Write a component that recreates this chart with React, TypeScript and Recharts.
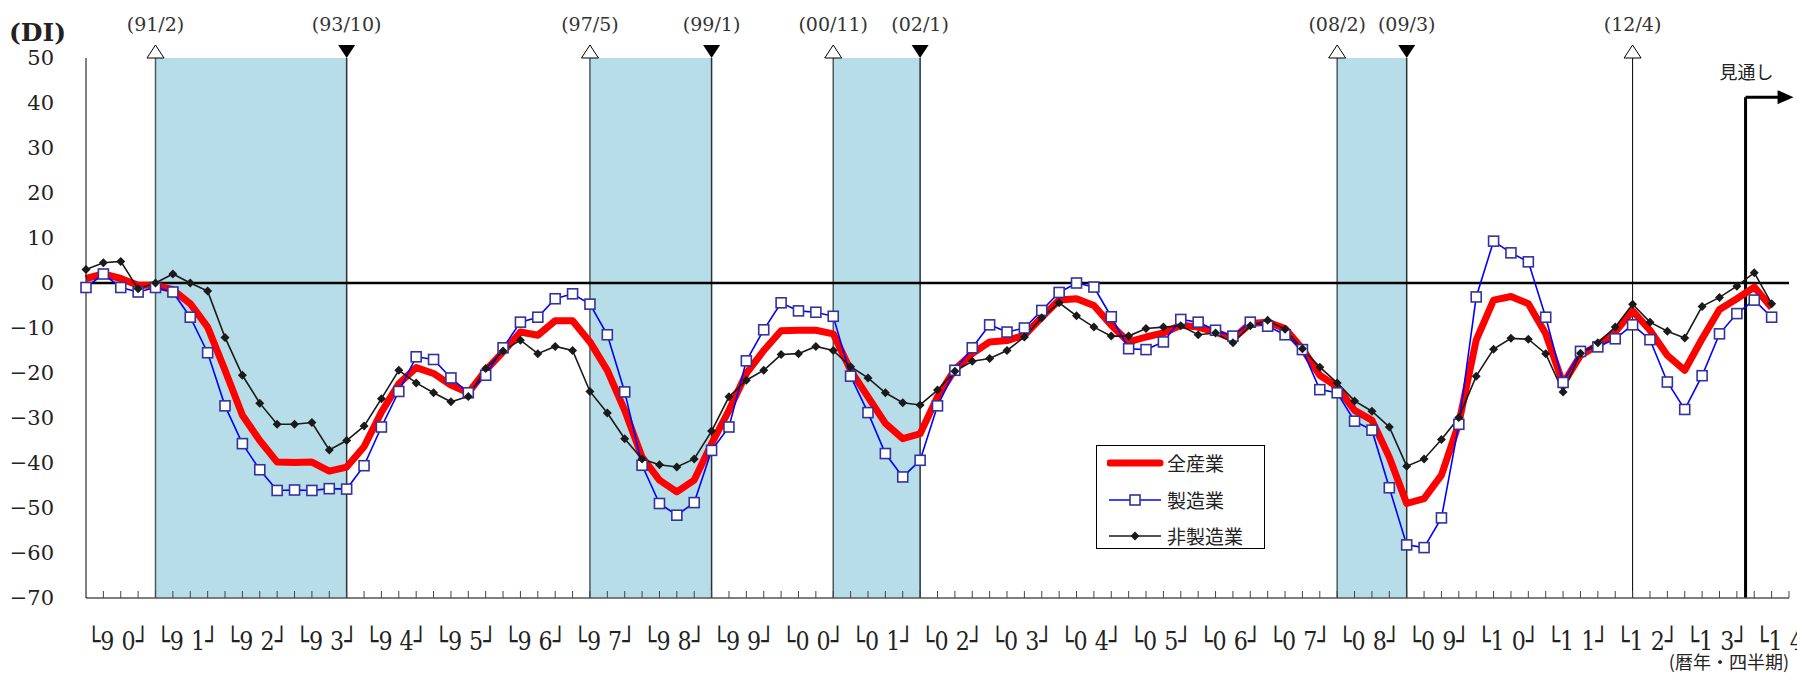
import React from 'react';
import { LineChart, Line, XAxis, YAxis, ReferenceArea, ReferenceLine, ReferenceDot, Legend } from 'recharts';

// quarterly DI, 1990 Q1 .. 2014 Q2 (last two quarters are forecasts)
const years = ['90', '91', '92', '93', '94', '95', '96', '97', '98', '99', '00', '01', '02', '03', '04', '05', '06', '07', '08', '09', '10', '11', '12', '13', '14'];

const allIndustry = [
  1, 2, 1, -0.5, -0.5, -1.5, -4.6, -9.8, -19.4, -29.4,
  -35, -39.8, -39.9, -39.8, -41.8, -40.9, -36.4, -28.7, -22.4, -18.8,
  -20.1, -22.7, -24.4, -19.4, -15.3, -10.9, -11.6, -8.4, -8.4, -13.1,
  -19.4, -28.3, -38.7, -43.8, -46.4, -43.8, -35.7, -28.3, -20.1, -15,
  -10.6, -10.5, -10.5, -11.3, -19.4, -25.3, -31.2, -34.6, -33.5, -25.3,
  -19.2, -15.7, -13.1, -12.8, -11.6, -7.6, -3.8, -3.5, -5, -9.4,
  -13.1, -12, -11.1, -9.4, -9.8, -10.9, -12.4, -9, -8.7, -10.1,
  -14.6, -20.5, -23.1, -28.3, -30.5, -38.7, -49, -47.9, -42.7, -31.2,
  -12.7, -3.8, -3, -4.6, -11.3, -22.4, -16.1, -13.8, -10.9, -6.2,
  -10.5, -16.1, -19.4, -12.4, -5.9, -3.5, -0.9, -5.5,
];

const manufacturing = [
  -1, 2, -1, -2, -1, -2, -7.6, -15.5, -27.3, -35.7,
  -41.5, -46.1, -46, -46.1, -45.7, -45.8, -40.6, -32, -24.1, -16.4,
  -17, -21.1, -24.4, -20.5, -14.4, -8.7, -7.6, -3.5, -2.4, -4.7,
  -11.5, -24.2, -40.5, -49, -51.6, -48.8, -37.2, -32, -17.3, -10.4,
  -4.4, -6.2, -6.5, -7.4, -20.7, -28.8, -37.9, -43.1, -39.4, -27.3,
  -19.4, -14.4, -9.3, -10.9, -10, -6.1, -2.1, 0, -0.9, -7.5,
  -14.6, -14.8, -13.1, -8.1, -8.7, -10.5, -11.8, -8.7, -9.6, -11.5,
  -14.8, -23.7, -24.4, -30.7, -32.7, -45.5, -58.2, -58.8, -52.2, -31.4,
  -3.1, 9.3, 6.7, 4.7, -7.6, -22.1, -15.2, -14.2, -12.4, -9.3,
  -12.6, -22, -28.1, -20.6, -11.3, -6.8, -3.8, -7.6,
];

const nonManufacturing = [
  3, 4.5, 4.8, -1.3, 0, 2, 0, -1.8, -12.1, -20.5,
  -26.7, -31.4, -31.4, -31, -37.1, -35, -31.8, -25.7, -19.4, -22.2,
  -24.4, -26.4, -25.2, -19, -15.1, -12.7, -15.7, -14.1, -15, -24.1,
  -28.9, -34.6, -39.1, -40.4, -40.9, -39.1, -32.9, -25.3, -21.6, -19.4,
  -15.9, -15.7, -14.1, -15, -18.6, -21.1, -24.4, -26.6, -27.1, -23.8,
  -19.6, -17.4, -16.8, -15, -12, -7.7, -4.4, -7.3, -9.8, -11.8,
  -11.8, -10.1, -9.8, -9.5, -11.5, -11.1, -13.3, -9.5, -8.3, -10.3,
  -14.6, -18.7, -22.2, -26.2, -28.5, -32, -40.7, -39.1, -34.8, -29.9,
  -20.7, -14.7, -12.3, -12.5, -15.7, -24.2, -15.6, -13.3, -9.8, -4.7,
  -8.7, -10.7, -12.2, -5.2, -3.2, -0.7, 2.3, -4.6,
];

const yTicks = [50, 40, 30, 20, 10, 0, -10, -20, -30, -40, -50, -60, -70];

// recession periods, as quarter index (peak .. trough)
const recessions = [
  { peak: '(91/2)', trough: '(93/10)', start: 4, end: 15 },
  { peak: '(97/5)', trough: '(99/1)', start: 29, end: 36 },
  { peak: '(00/11)', trough: '(02/1)', start: 43, end: 48 },
  { peak: '(08/2)', trough: '(09/3)', start: 72, end: 76 },
];
const lastPeak = { label: '(12/4)', at: 89 };
const outlook = { label: '見通し', at: 95.5, level: 41.3 };

const legendItems = [
  { key: 'all', label: '全産業' },
  { key: 'mfg', label: '製造業' },
  { key: 'non', label: '非製造業' },
];

const data = allIndustry.map((v, i) => ({ q: i, all: v, mfg: manufacturing[i], non: nonManufacturing[i] }));
const xTicks = Array.from({ length: years.length * 4 - 1 }, (_, i) => i);

const serif = 'DejaVu Serif, Liberation Serif, serif';
const jp = 'Noto Sans CJK JP, sans-serif';

const XTick = (props: any) => {
  const { x, y, payload } = props;
  const i = payload.value;
  const yr = i % 4 === 0 ? years[i / 4] : null;
  return (
    <g>
      {i > 0 && <line x1={x} x2={x} y1={y} y2={y - 7} stroke="#444" strokeWidth={1} />}
      {yr && (
        <text x={x + 32} y={y + 52} textAnchor="middle" fontSize={26} fontFamily={serif} fill="#222"
          textLength={62} lengthAdjust="spacingAndGlyphs">
          {`└${yr[0]} ${yr[1]}┘`}
        </text>
      )}
    </g>
  );
};

const SquareDot = (p: any) => (
  <rect key={`sq-${p.index}`} x={p.cx - 5} y={p.cy - 5} width={10} height={10} fill="#fff" stroke="#333399" strokeWidth={1.6} />
);

const DiamondDot = (p: any) => (
  <polygon key={`dm-${p.index}`} points={`${p.cx},${p.cy - 4.5} ${p.cx + 4.5},${p.cy} ${p.cx},${p.cy + 4.5} ${p.cx - 4.5},${p.cy}`} fill="#1a1a1a" />
);

const PeakMark = (label: string, open: boolean) => (p: any) => (
  <g>
    {open ? (
      <polygon points={`${p.cx - 8.5},${p.cy} ${p.cx + 8.5},${p.cy} ${p.cx},${p.cy - 13}`} fill="#fff" stroke="#000" strokeWidth={1} />
    ) : (
      <polygon points={`${p.cx - 8.5},${p.cy - 13} ${p.cx + 8.5},${p.cy - 13} ${p.cx},${p.cy}`} fill="#000" />
    )}
    <text x={p.cx} y={p.cy - 27} textAnchor="middle" fontSize={19} fontFamily={serif} fill="#333">{label}</text>
  </g>
);

const OutlookMark = (p: any) => (
  <g>
    <line x1={p.cx} x2={p.cx + 34} y1={p.cy} y2={p.cy} stroke="#000" strokeWidth={3} />
    <polygon points={`${p.cx + 32},${p.cy - 7} ${p.cx + 48},${p.cy} ${p.cx + 32},${p.cy + 7}`} fill="#000" />
    <text x={p.cx + 1} y={p.cy - 18} textAnchor="middle" fontSize={18} fontFamily={jp} fill="#222">{outlook.label}</text>
  </g>
);

const LegendBox = () => (
  <div style={{ width: 169, height: 104, border: '1px solid #000', background: '#fff', boxSizing: 'border-box', position: 'relative' }}>
    {legendItems.map((it, k) => {
      const cy = 17 + k * 36.5;
      return (
        <div key={it.key} style={{ position: 'absolute', left: 0, top: cy - 14, height: 28, width: 167 }}>
          <svg width={64} height={28} style={{ position: 'absolute', left: 10, top: 0 }}>
            {it.key === 'all' && <line x1={3} x2={53} y1={14} y2={14} stroke="#ff0000" strokeWidth={7} strokeLinecap="round" />}
            {it.key === 'mfg' && (
              <g>
                <line x1={2} x2={54} y1={14} y2={14} stroke="#0000ff" strokeWidth={1.6} />
                <rect x={23} y={9} width={10} height={10} fill="#fff" stroke="#333399" strokeWidth={1.6} />
              </g>
            )}
            {it.key === 'non' && (
              <g>
                <line x1={2} x2={54} y1={14} y2={14} stroke="#1a1a1a" strokeWidth={1.6} />
                <polygon points="28,9.5 32.5,14 28,18.5 23.5,14" fill="#1a1a1a" />
              </g>
            )}
          </svg>
          <span style={{ position: 'absolute', left: 70, top: 1, fontSize: 19, lineHeight: '26px', fontFamily: jp, color: '#222', whiteSpace: 'nowrap' }}>
            {it.label}
          </span>
        </div>
      );
    })}
  </div>
);

export default function App() {
  return (
    <div style={{ position: 'absolute', left: 0, top: 0, width: 1797, height: 673, background: '#fff' }}>
      <LineChart width={1797} height={673} data={data} margin={{ top: 58, right: 8, left: 0, bottom: 0 }}>
        {recessions.map((r) => (
          <ReferenceArea key={`ra-${r.start}`} x1={r.start} x2={r.end} y1={-70} y2={50} fill="#b7dde8" fillOpacity={1} stroke="none" />
        ))}
        {recessions.map((r) => (
          <ReferenceLine key={`rs-${r.start}`} x={r.start} stroke="#4d5a60" strokeWidth={1.5} />
        ))}
        {recessions.map((r) => (
          <ReferenceLine key={`re-${r.end}`} x={r.end} stroke="#2a3236" strokeWidth={1.5} />
        ))}
        <ReferenceLine x={lastPeak.at} stroke="#000" strokeWidth={1} />
        <ReferenceLine segment={[{ x: outlook.at, y: -70 }, { x: outlook.at, y: outlook.level }]} stroke="#000" strokeWidth={3} />
        <ReferenceLine y={0} stroke="#000" strokeWidth={2.5} />
        <XAxis
          dataKey="q"
          type="number"
          domain={[0, 98]}
          ticks={xTicks}
          interval={0}
          height={75}
          tickSize={0}
          tickMargin={0}
          tickLine={false}
          axisLine={{ stroke: '#555', strokeWidth: 1.5 }}
          tick={<XTick />}
          label={{
            content: (p: any) => (
              <text x={p.viewBox.x + p.viewBox.width} y={p.viewBox.y + p.viewBox.height - 4} textAnchor="end" fontSize={18} fontFamily={jp} fill="#222">
                (暦年・四半期)
              </text>
            ),
          }}
        />
        <YAxis
          type="number"
          domain={[-70, 50]}
          ticks={yTicks}
          interval={0}
          width={86}
          tickSize={0}
          tickMargin={32}
          tickLine={false}
          axisLine={{ stroke: '#000', strokeWidth: 1 }}
          tick={{ fill: '#222', fontSize: 21, fontFamily: serif }}
          tickFormatter={(v: number) => String(v).replace('-', '−')}
          label={{
            content: (p: any) => (
              <text x={9} y={p.viewBox.y - 17} fontSize={25} fontWeight="bold" fontFamily={serif} fill="#222">(DI)</text>
            ),
          }}
        />
        <Line dataKey="all" stroke="#ff0000" strokeWidth={7} strokeLinejoin="round" dot={false} activeDot={false} isAnimationActive={false} />
        <Line dataKey="mfg" stroke="#0000ff" strokeWidth={1.6} dot={SquareDot} activeDot={false} isAnimationActive={false} />
        <Line dataKey="non" stroke="#1a1a1a" strokeWidth={1.6} dot={DiamondDot} activeDot={false} isAnimationActive={false} />
        {recessions.map((r) => (
          <ReferenceDot key={`pd-${r.start}`} x={r.start} y={50} shape={PeakMark(r.peak, true)} />
        ))}
        {recessions.map((r) => (
          <ReferenceDot key={`td-${r.end}`} x={r.end} y={50} shape={PeakMark(r.trough, false)} />
        ))}
        <ReferenceDot x={lastPeak.at} y={50} shape={PeakMark(lastPeak.label, true)} />
        <ReferenceDot x={outlook.at} y={outlook.level} shape={OutlookMark} />
        <Legend
          layout="vertical"
          align="center"
          verticalAlign="middle"
          content={() => <LegendBox />}
          wrapperStyle={{ position: 'absolute', left: 1096, top: 445, width: 169, height: 104, margin: 0 }}
        />
      </LineChart>
    </div>
  );
}
